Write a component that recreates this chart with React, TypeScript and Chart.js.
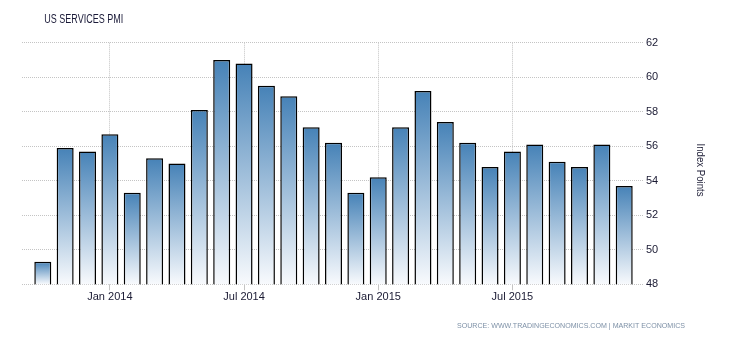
import React, { useEffect, useRef } from "react";
import { Chart, registerables } from "chart.js";

Chart.register(...registerables);

const chartTitle = "US SERVICES PMI";
const sourceText = "SOURCE: WWW.TRADINGECONOMICS.COM | MARKIT ECONOMICS";
const axisTitle = "Index Points";

const categories = [
  "Oct 2013", "Nov 2013", "Dec 2013",
  "Jan 2014", "Feb 2014", "Mar 2014", "Apr 2014", "May 2014", "Jun 2014",
  "Jul 2014", "Aug 2014", "Sep 2014", "Oct 2014", "Nov 2014", "Dec 2014",
  "Jan 2015", "Feb 2015", "Mar 2015", "Apr 2015", "May 2015", "Jun 2015",
  "Jul 2015", "Aug 2015", "Sep 2015", "Oct 2015", "Nov 2015", "Dec 2015",
];

const pmiValues = [
  49.3, 55.9, 55.7,
  56.7, 53.3, 55.3, 55.0, 58.1, 61.0,
  60.8, 59.5, 58.9, 57.1, 56.2, 53.3,
  54.2, 57.1, 59.2, 57.4, 56.2, 54.8,
  55.7, 56.1, 55.1, 54.8, 56.1, 53.7,
];

const xTickLabels = ["Jan 2014", "Jul 2014", "Jan 2015", "Jul 2015"];
const yMin = 48;
const yMax = 62;
const yStep = 2;

const FONT = '"Liberation Sans", Arial, sans-serif';

function drawFitted(c: CanvasRenderingContext2D, text: string, x: number, y: number, width: number, align: "left" | "right") {
  const w = c.measureText(text).width;
  const sx = width / w;
  c.save();
  const startX = align === "left" ? x : x - width;
  c.translate(startX, y);
  c.scale(sx, 1);
  c.textAlign = "left";
  c.fillText(text, 0, 0);
  c.restore();
}

const textPlugin = {
  id: "texts",
  afterDraw(chart: any) {
    const c = chart.ctx as CanvasRenderingContext2D;
    c.save();
    c.textBaseline = "middle";
    c.font = '12px "Liberation Sans", sans-serif';
    c.fillStyle = "#1a1a38";
    drawFitted(c, chartTitle, 44.3, 19.5, 79, "left");
    c.font = '8px "Liberation Sans", sans-serif';
    c.fillStyle = "#7d90a6";
    drawFitted(c, sourceText, 685, 326, 228, "right");
    c.font = '10px "Liberation Sans", sans-serif';
    c.fillStyle = "#1a1a33";
    c.translate(700, 170);
    c.rotate(Math.PI / 2);
    drawFitted(c, axisTitle, -26.5, 0, 53, "left");
    c.restore();
  },
};

export default function App() {
  const ref = useRef<HTMLCanvasElement | null>(null);

  useEffect(() => {
    if (!ref.current) return;
    const points = pmiValues.map((v, i) => ({ x: i, y: v }));
    const chart = new Chart(ref.current, {
      type: "bar",
      data: {
        datasets: [
          {
            label: chartTitle,
            data: points,
            backgroundColor: (ctx: any) => {
              const ch = ctx.chart;
              if (!ch.chartArea || ctx.type !== "data" || !ch.scales.y) return "#4a86b9";
              const ys = ch.scales.y;
              const top = ys.getPixelForValue(ctx.parsed ? ctx.parsed.y : ctx.raw.y);
              const bottom = ys.getPixelForValue(yMin);
              const g = ch.ctx.createLinearGradient(0, top, 0, bottom);
              g.addColorStop(0, "rgb(70,130,183)");
              g.addColorStop(1, "rgb(248,250,253)");
              return g;
            },
            borderColor: "#000000",
            borderWidth: 1.5,
            borderSkipped: false,
            categoryPercentage: 1,
            barPercentage: 0.76,
          } as any,
        ],
      },
      options: {
        responsive: false,
        animation: false,
        layout: { padding: { left: 22, top: 42.7, right: 0, bottom: 0 } },
        plugins: {
          legend: { display: false },
          tooltip: { enabled: false },
          title: { display: false },
        },
        scales: {
          x: {
            type: "linear",
            min: -0.93,
            max: 26.84,
            offset: false,
            afterBuildTicks: (scale: any) => {
              scale.ticks = xTickLabels.map((l) => ({ value: categories.indexOf(l) }));
            },
            afterFit: (scale: any) => {
              scale.height = 55.7;
            },
            ticks: {
              autoSkip: false,
              maxRotation: 0,
              padding: 0,
              color: "#1a1a33",
              font: { family: FONT, size: 11 },
              callback: (value: any) => categories[Math.round(Number(value))] ?? "",
            },
            grid: {
              display: true,
              drawOnChartArea: true,
              drawTicks: true,
              tickLength: 6,
              color: "#c4c4c4",
              tickColor: "#c4c4c4",
              tickBorderDash: [],
              borderDash: [1, 1],
              offset: false,
            } as any,
            border: { display: false, dash: [1, 1] } as any,
          },
          y: {
            position: "right",
            min: yMin,
            max: yMax,
            afterFit: (scale: any) => {
              scale.width = 87;
            },
            ticks: {
              stepSize: yStep,
              padding: 3,
              color: "#1a1a33",
              font: { family: FONT, size: 11 },
            },
            grid: {
              color: "#c4c4c4",
              drawTicks: false,
              borderDash: [1, 1],
            } as any,
            border: { display: false, dash: [1, 1] } as any,
          },
        },
      },
      plugins: [textPlugin],
    });
    return () => chart.destroy();
  }, []);

  return (
    <div style={{ position: "absolute", left: 0, top: 0, width: 730, height: 340, background: "#fff" }}>
      <canvas ref={ref} width={730} height={340} />
    </div>
  );
}
